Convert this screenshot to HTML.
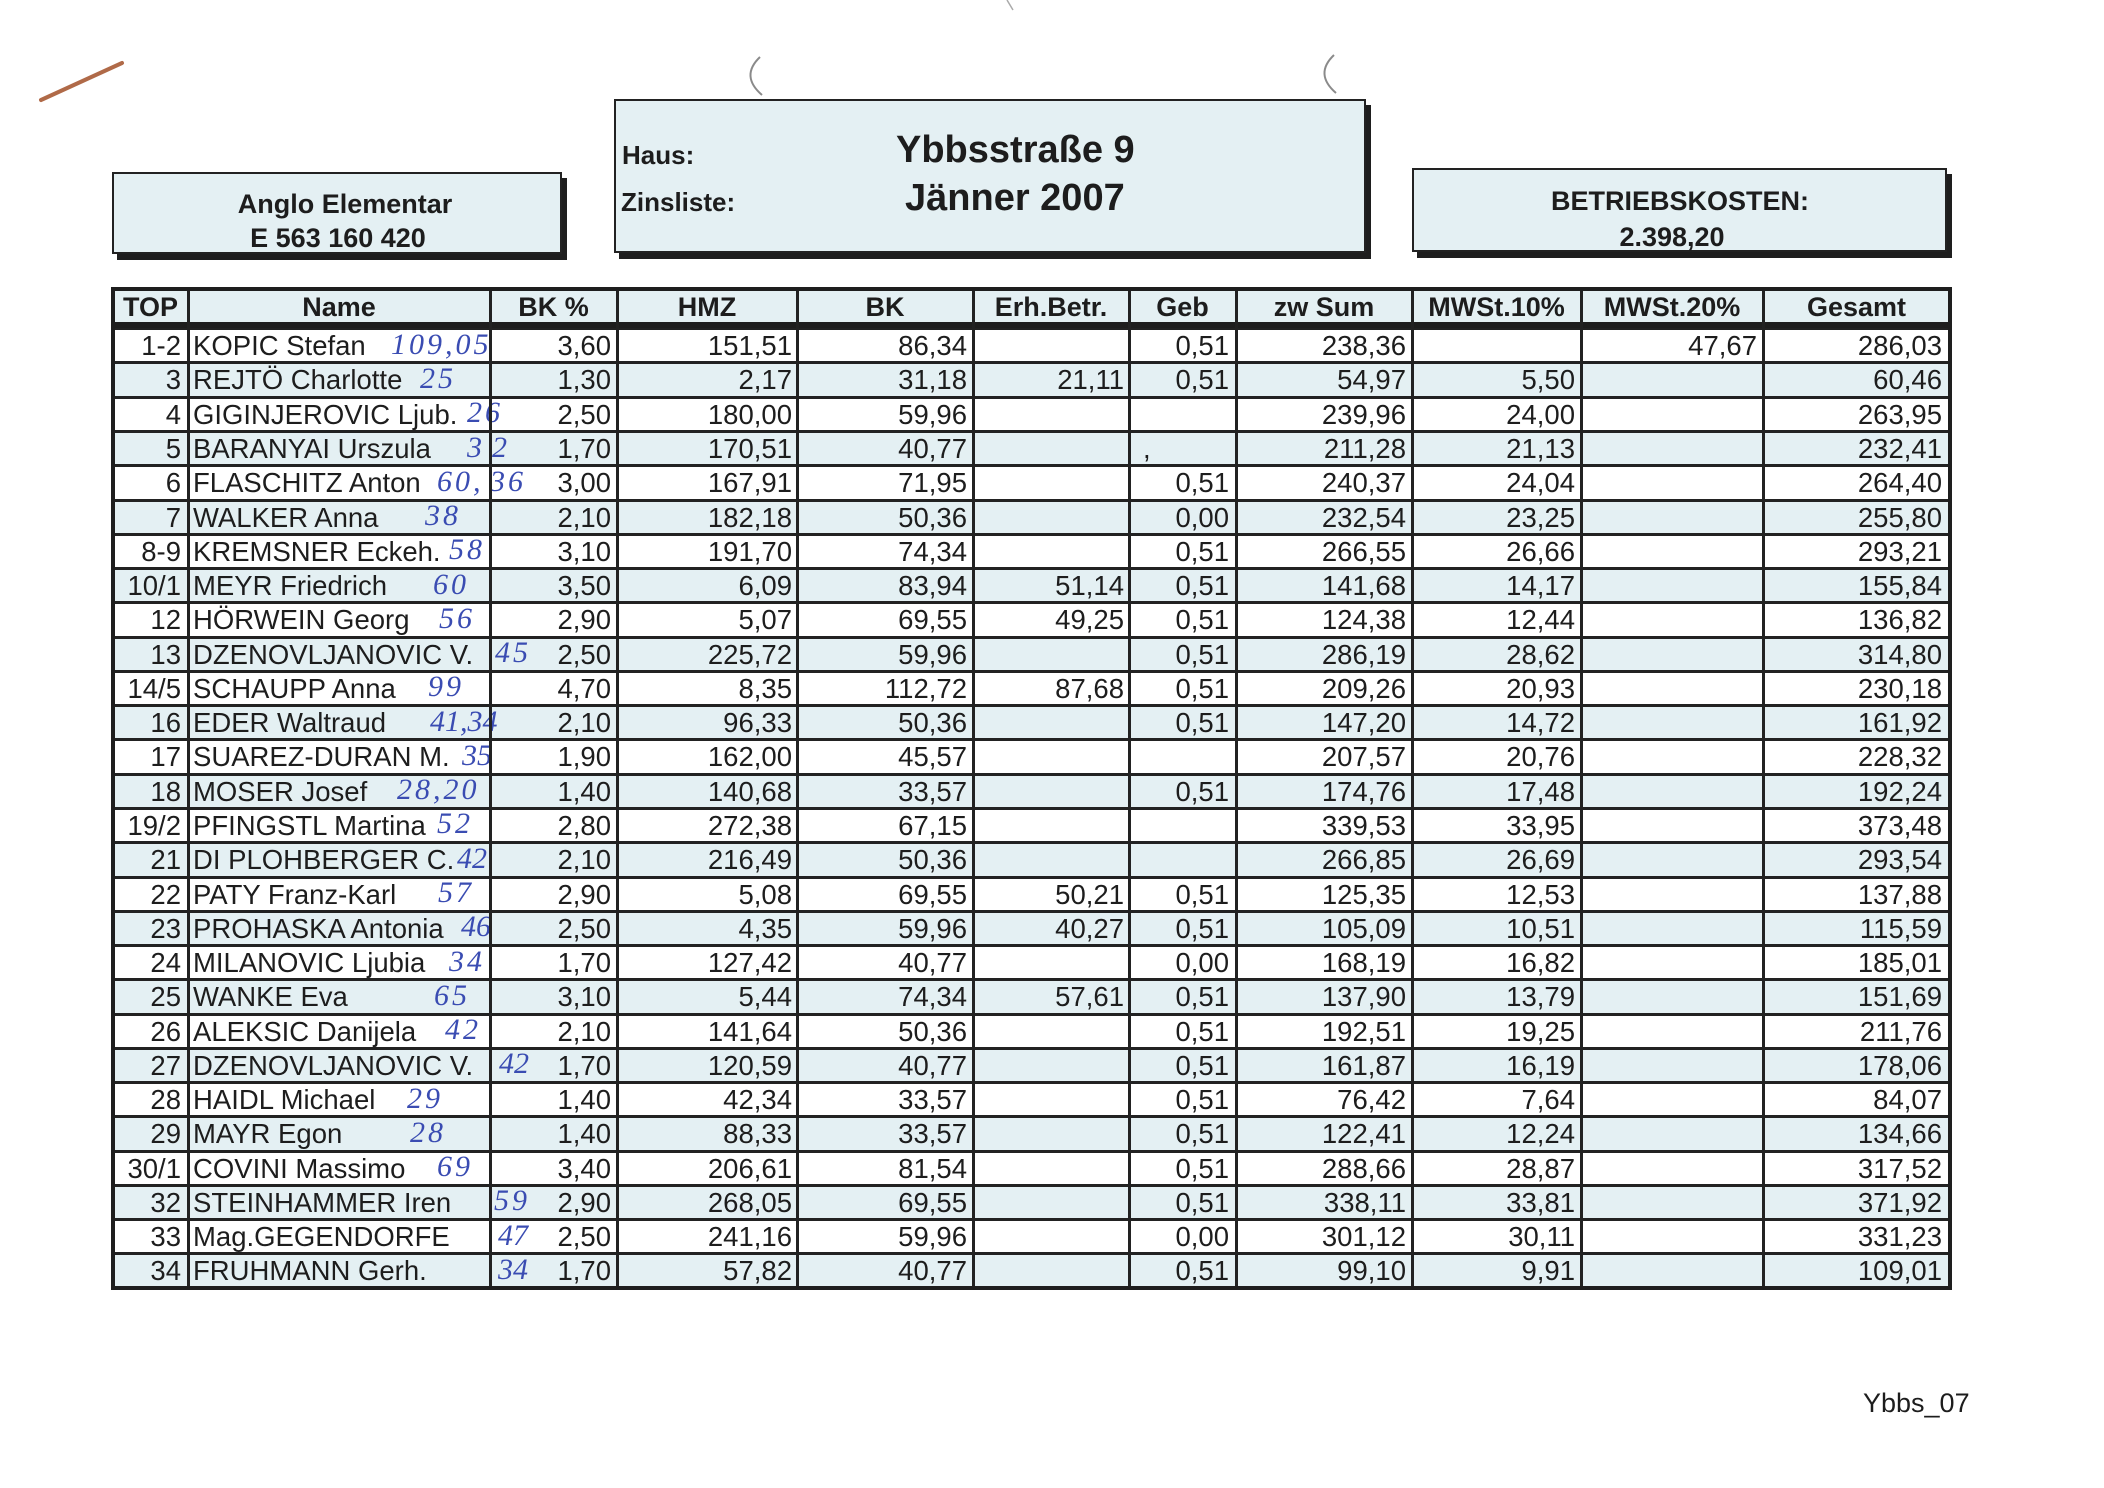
<!DOCTYPE html>
<html>
<head>
<meta charset="utf-8">
<style>
html,body{margin:0;padding:0}
body{width:2104px;height:1488px;background:#fff;position:relative;overflow:hidden;font-family:"Liberation Sans",Arial,sans-serif;color:#1d1d1d}
.t{position:absolute;white-space:nowrap;line-height:40px}
.b{font-weight:bold}
.box{position:absolute;background:#e4f0f3;border:2px solid #222;box-shadow:5px 6px 0 #1e1e1e;box-sizing:border-box}
.r{position:absolute;left:113px;width:1837px;height:34.27px;font-size:27.5px}
.r.e{background:#e4f0f3}
.r::before{content:"";position:absolute;left:0;right:0;top:-1.5px;height:3px;background:#222}
.r span{position:absolute;top:-2.5px;line-height:40px;white-space:nowrap}
.c0{right:1769px}.c1{left:80px}.c2{right:1339px}.c3{right:1158px}.c4{right:983px}.c5{right:826px}.c6{right:721px}.c7{right:544px}.c8{right:375px}.c9{right:193px}.c10{right:8px}
.r span.h{color:#3a4cb2;font-family:"Liberation Serif","DejaVu Serif",serif;font-style:italic;font-size:30px;letter-spacing:3px;top:-4px}
.vl{position:absolute;top:289px;height:1000px;width:3px;background:#222}
.hd{position:absolute;top:286.6px;line-height:40px;font-weight:bold;font-size:27px;text-align:center;white-space:nowrap}
</style>
</head>
<body>
<svg style="position:absolute;left:0;top:0" width="2104" height="1488">
<line x1="41" y1="100" x2="122" y2="63" stroke="#b06a48" stroke-width="4" stroke-linecap="round"/>
<path d="M760 57 Q740 76 762 95" stroke="#8a8a8a" fill="none" stroke-width="2"/>
<path d="M1334 55 Q1314 74 1336 93" stroke="#8a8a8a" fill="none" stroke-width="2"/>
<line x1="1007" y1="0" x2="1013" y2="10" stroke="#aaa" stroke-width="1.5"/>
</svg>

<div class="box" style="left:112px;top:172px;width:450px;height:82px"></div>
<div class="t b" style="left:190px;width:310px;text-align:center;top:183.6px;font-size:27px">Anglo Elementar</div>
<div class="t b" style="left:183px;width:310px;text-align:center;top:217.6px;font-size:27px">E 563 160 420</div>

<div class="box" style="left:614px;top:99px;width:752px;height:154px"></div>
<div class="t b" style="left:622px;top:135px;font-size:26px">Haus:</div>
<div class="t b" style="left:621px;top:182px;font-size:26px">Zinsliste:</div>
<div class="t b" style="left:896px;top:129.8px;font-size:38px">Ybbsstraße 9</div>
<div class="t b" style="left:905px;top:177.8px;font-size:38px">Jänner 2007</div>

<div class="box" style="left:1412px;top:168px;width:535px;height:84px"></div>
<div class="t b" style="left:1530px;width:300px;text-align:center;top:180.6px;font-size:27px">BETRIEBSKOSTEN:</div>
<div class="t b" style="left:1522px;width:300px;text-align:center;top:216.6px;font-size:27px">2.398,20</div>

<!-- table header -->
<div style="position:absolute;left:113px;top:289px;width:1837px;height:40px;background:#e4f0f3"></div>

<!-- rows -->
<div class="r" style="top:328.7px"><span class="c0">1-2</span><span class="c1">KOPIC Stefan</span><span class="h" style="left:278px">109,05</span><span class="c2">3,60</span><span class="c3">151,51</span><span class="c4">86,34</span><span class="c6">0,51</span><span class="c7">238,36</span><span class="c9">47,67</span><span class="c10">286,03</span></div>
<div class="r e" style="top:362.97px"><span class="c0">3</span><span class="c1">REJTÖ Charlotte</span><span class="h" style="left:307px">25</span><span class="c2">1,30</span><span class="c3">2,17</span><span class="c4">31,18</span><span class="c5">21,11</span><span class="c6">0,51</span><span class="c7">54,97</span><span class="c8">5,50</span><span class="c10">60,46</span></div>
<div class="r" style="top:397.24px"><span class="c0">4</span><span class="c1">GIGINJEROVIC Ljub.</span><span class="h" style="left:354px">26</span><span class="c2">2,50</span><span class="c3">180,00</span><span class="c4">59,96</span><span class="c7">239,96</span><span class="c8">24,00</span><span class="c10">263,95</span></div>
<div class="r e" style="top:431.51px"><span class="c0">5</span><span class="c1">BARANYAI Urszula</span><span class="h" style="left:354px">3</span><span class="h" style="left:379px">2</span><span class="c2">1,70</span><span class="c3">170,51</span><span class="c4">40,77</span><span style="left:1030px">,</span><span class="c7">211,28</span><span class="c8">21,13</span><span class="c10">232,41</span></div>
<div class="r" style="top:465.78px"><span class="c0">6</span><span class="c1">FLASCHITZ Anton</span><span class="h" style="left:324px">60,</span><span class="h" style="left:377px">36</span><span class="c2">3,00</span><span class="c3">167,91</span><span class="c4">71,95</span><span class="c6">0,51</span><span class="c7">240,37</span><span class="c8">24,04</span><span class="c10">264,40</span></div>
<div class="r e" style="top:500.05px"><span class="c0">7</span><span class="c1">WALKER Anna</span><span class="h" style="left:312px">38</span><span class="c2">2,10</span><span class="c3">182,18</span><span class="c4">50,36</span><span class="c6">0,00</span><span class="c7">232,54</span><span class="c8">23,25</span><span class="c10">255,80</span></div>
<div class="r" style="top:534.32px"><span class="c0">8-9</span><span class="c1">KREMSNER Eckeh.</span><span class="h" style="left:336px">58</span><span class="c2">3,10</span><span class="c3">191,70</span><span class="c4">74,34</span><span class="c6">0,51</span><span class="c7">266,55</span><span class="c8">26,66</span><span class="c10">293,21</span></div>
<div class="r e" style="top:568.59px"><span class="c0">10/1</span><span class="c1">MEYR Friedrich</span><span class="h" style="left:320px">60</span><span class="c2">3,50</span><span class="c3">6,09</span><span class="c4">83,94</span><span class="c5">51,14</span><span class="c6">0,51</span><span class="c7">141,68</span><span class="c8">14,17</span><span class="c10">155,84</span></div>
<div class="r" style="top:602.86px"><span class="c0">12</span><span class="c1">HÖRWEIN Georg</span><span class="h" style="left:326px">56</span><span class="c2">2,90</span><span class="c3">5,07</span><span class="c4">69,55</span><span class="c5">49,25</span><span class="c6">0,51</span><span class="c7">124,38</span><span class="c8">12,44</span><span class="c10">136,82</span></div>
<div class="r e" style="top:637.13px"><span class="c0">13</span><span class="c1">DZENOVLJANOVIC V.</span><span class="h" style="left:382px">45</span><span class="c2">2,50</span><span class="c3">225,72</span><span class="c4">59,96</span><span class="c6">0,51</span><span class="c7">286,19</span><span class="c8">28,62</span><span class="c10">314,80</span></div>
<div class="r" style="top:671.40px"><span class="c0">14/5</span><span class="c1">SCHAUPP Anna</span><span class="h" style="left:315px">99</span><span class="c2">4,70</span><span class="c3">8,35</span><span class="c4">112,72</span><span class="c5">87,68</span><span class="c6">0,51</span><span class="c7">209,26</span><span class="c8">20,93</span><span class="c10">230,18</span></div>
<div class="r e" style="top:705.67px"><span class="c0">16</span><span class="c1">EDER Waltraud</span><span class="h" style="left:317px;letter-spacing:0">41,34</span><span class="c2">2,10</span><span class="c3">96,33</span><span class="c4">50,36</span><span class="c6">0,51</span><span class="c7">147,20</span><span class="c8">14,72</span><span class="c10">161,92</span></div>
<div class="r" style="top:739.94px"><span class="c0">17</span><span class="c1">SUAREZ-DURAN M.</span><span class="h" style="left:349px;letter-spacing:0">35</span><span class="c2">1,90</span><span class="c3">162,00</span><span class="c4">45,57</span><span class="c7">207,57</span><span class="c8">20,76</span><span class="c10">228,32</span></div>
<div class="r e" style="top:774.21px"><span class="c0">18</span><span class="c1">MOSER Josef</span><span class="h" style="left:284px">28,20</span><span class="c2">1,40</span><span class="c3">140,68</span><span class="c4">33,57</span><span class="c6">0,51</span><span class="c7">174,76</span><span class="c8">17,48</span><span class="c10">192,24</span></div>
<div class="r" style="top:808.48px"><span class="c0">19/2</span><span class="c1">PFINGSTL Martina</span><span class="h" style="left:324px">52</span><span class="c2">2,80</span><span class="c3">272,38</span><span class="c4">67,15</span><span class="c7">339,53</span><span class="c8">33,95</span><span class="c10">373,48</span></div>
<div class="r e" style="top:842.75px"><span class="c0">21</span><span class="c1">DI PLOHBERGER C.</span><span class="h" style="left:344px;letter-spacing:0">42</span><span class="c2">2,10</span><span class="c3">216,49</span><span class="c4">50,36</span><span class="c7">266,85</span><span class="c8">26,69</span><span class="c10">293,54</span></div>
<div class="r" style="top:877.02px"><span class="c0">22</span><span class="c1">PATY Franz-Karl</span><span class="h" style="left:325px">57</span><span class="c2">2,90</span><span class="c3">5,08</span><span class="c4">69,55</span><span class="c5">50,21</span><span class="c6">0,51</span><span class="c7">125,35</span><span class="c8">12,53</span><span class="c10">137,88</span></div>
<div class="r e" style="top:911.29px"><span class="c0">23</span><span class="c1">PROHASKA Antonia</span><span class="h" style="left:348px;letter-spacing:0">46</span><span class="c2">2,50</span><span class="c3">4,35</span><span class="c4">59,96</span><span class="c5">40,27</span><span class="c6">0,51</span><span class="c7">105,09</span><span class="c8">10,51</span><span class="c10">115,59</span></div>
<div class="r" style="top:945.56px"><span class="c0">24</span><span class="c1">MILANOVIC Ljubia</span><span class="h" style="left:336px">34</span><span class="c2">1,70</span><span class="c3">127,42</span><span class="c4">40,77</span><span class="c6">0,00</span><span class="c7">168,19</span><span class="c8">16,82</span><span class="c10">185,01</span></div>
<div class="r e" style="top:979.83px"><span class="c0">25</span><span class="c1">WANKE Eva</span><span class="h" style="left:321px">65</span><span class="c2">3,10</span><span class="c3">5,44</span><span class="c4">74,34</span><span class="c5">57,61</span><span class="c6">0,51</span><span class="c7">137,90</span><span class="c8">13,79</span><span class="c10">151,69</span></div>
<div class="r" style="top:1014.10px"><span class="c0">26</span><span class="c1">ALEKSIC Danijela</span><span class="h" style="left:332px">42</span><span class="c2">2,10</span><span class="c3">141,64</span><span class="c4">50,36</span><span class="c6">0,51</span><span class="c7">192,51</span><span class="c8">19,25</span><span class="c10">211,76</span></div>
<div class="r e" style="top:1048.37px"><span class="c0">27</span><span class="c1">DZENOVLJANOVIC V.</span><span class="h" style="left:386px;letter-spacing:0">42</span><span class="c2">1,70</span><span class="c3">120,59</span><span class="c4">40,77</span><span class="c6">0,51</span><span class="c7">161,87</span><span class="c8">16,19</span><span class="c10">178,06</span></div>
<div class="r" style="top:1082.64px"><span class="c0">28</span><span class="c1">HAIDL Michael</span><span class="h" style="left:294px">29</span><span class="c2">1,40</span><span class="c3">42,34</span><span class="c4">33,57</span><span class="c6">0,51</span><span class="c7">76,42</span><span class="c8">7,64</span><span class="c10">84,07</span></div>
<div class="r e" style="top:1116.91px"><span class="c0">29</span><span class="c1">MAYR Egon</span><span class="h" style="left:297px">28</span><span class="c2">1,40</span><span class="c3">88,33</span><span class="c4">33,57</span><span class="c6">0,51</span><span class="c7">122,41</span><span class="c8">12,24</span><span class="c10">134,66</span></div>
<div class="r" style="top:1151.18px"><span class="c0">30/1</span><span class="c1">COVINI Massimo</span><span class="h" style="left:324px">69</span><span class="c2">3,40</span><span class="c3">206,61</span><span class="c4">81,54</span><span class="c6">0,51</span><span class="c7">288,66</span><span class="c8">28,87</span><span class="c10">317,52</span></div>
<div class="r e" style="top:1185.45px"><span class="c0">32</span><span class="c1">STEINHAMMER Iren</span><span class="h" style="left:381px">59</span><span class="c2">2,90</span><span class="c3">268,05</span><span class="c4">69,55</span><span class="c6">0,51</span><span class="c7">338,11</span><span class="c8">33,81</span><span class="c10">371,92</span></div>
<div class="r" style="top:1219.72px"><span class="c0">33</span><span class="c1">Mag.GEGENDORFE</span><span class="h" style="left:385px;letter-spacing:0">47</span><span class="c2">2,50</span><span class="c3">241,16</span><span class="c4">59,96</span><span class="c6">0,00</span><span class="c7">301,12</span><span class="c8">30,11</span><span class="c10">331,23</span></div>
<div class="r e" style="top:1253.99px"><span class="c0">34</span><span class="c1">FRUHMANN Gerh.</span><span class="h" style="left:385px;letter-spacing:0">34</span><span class="c2">1,70</span><span class="c3">57,82</span><span class="c4">40,77</span><span class="c6">0,51</span><span class="c7">99,10</span><span class="c8">9,91</span><span class="c10">109,01</span></div>

<!-- header bottom line -->
<div style="position:absolute;left:113px;top:322px;width:1837px;height:6px;background:#1e1e1e"></div>

<!-- vertical lines -->
<div class="vl" style="left:186.5px"></div>
<div class="vl" style="left:488.5px"></div>
<div class="vl" style="left:615.5px"></div>
<div class="vl" style="left:795.5px"></div>
<div class="vl" style="left:971.5px"></div>
<div class="vl" style="left:1127.5px"></div>
<div class="vl" style="left:1234.5px"></div>
<div class="vl" style="left:1410.5px"></div>
<div class="vl" style="left:1579.5px"></div>
<div class="vl" style="left:1761.5px"></div>

<!-- outer border -->
<div style="position:absolute;left:111px;top:287px;width:1841px;height:1003px;border:4px solid #1e1e1e;box-sizing:border-box"></div>

<!-- header text -->
<div class="hd" style="left:113px;width:75px">TOP</div>
<div class="hd" style="left:188px;width:302px">Name</div>
<div class="hd" style="left:490px;width:127px">BK %</div>
<div class="hd" style="left:617px;width:180px">HMZ</div>
<div class="hd" style="left:797px;width:176px">BK</div>
<div class="hd" style="left:973px;width:156px">Erh.Betr.</div>
<div class="hd" style="left:1129px;width:107px">Geb</div>
<div class="hd" style="left:1236px;width:176px">zw Sum</div>
<div class="hd" style="left:1412px;width:169px">MWSt.10%</div>
<div class="hd" style="left:1581px;width:182px">MWSt.20%</div>
<div class="hd" style="left:1763px;width:187px">Gesamt</div>

<div class="t" style="left:1863px;top:1382.6px;font-size:27px">Ybbs_07</div>
</body>
</html>
